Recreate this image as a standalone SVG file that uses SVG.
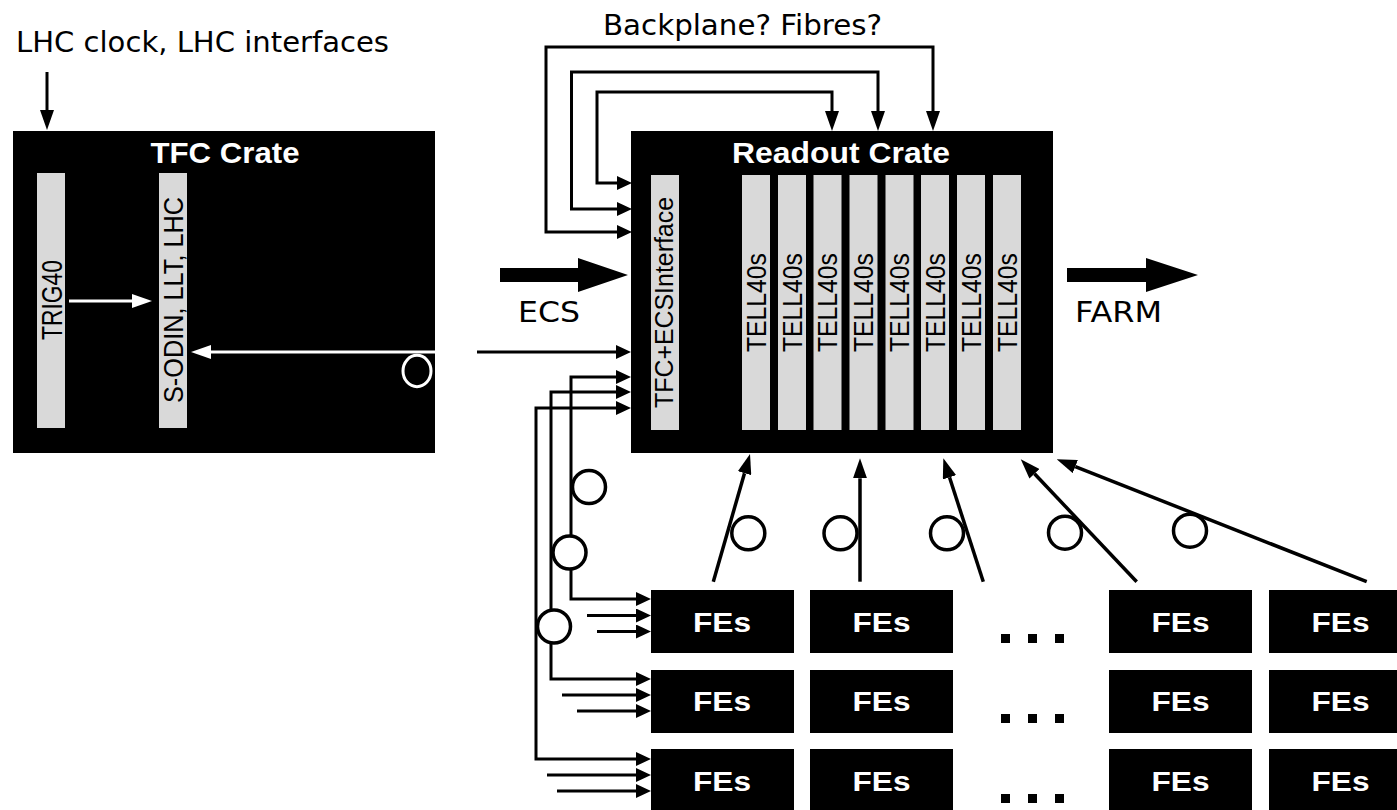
<svg xmlns="http://www.w3.org/2000/svg" width="1397" height="810" viewBox="0 0 1397 810">
<style>
.crate{fill:#000}
.bar{fill:#d9d9d9}
.fe{fill:#000}
.ttl{font-family:"Liberation Sans",Arial,sans-serif;font-weight:bold;fill:#fff;text-anchor:middle}
.bt{font-family:"Liberation Sans",Arial,sans-serif;fill:#000;text-anchor:middle}
.lbl{font-family:"DejaVu Sans",Verdana,sans-serif;font-size:29px;fill:#000}
.ln{fill:none;stroke:#000;stroke-width:3}
.fib{fill:none;stroke:#000;stroke-width:3.5}
.wl{fill:none;stroke:#fff;stroke-width:3}
.coil{fill:#fff;stroke:#000;stroke-width:3.5}
.dot{fill:#000}
</style>
<defs>
<marker id="ah" viewBox="0 0 20 14" refX="0" refY="7" markerWidth="20" markerHeight="14" markerUnits="userSpaceOnUse" orient="auto"><path d="M0,0 L20,7 L0,14 z" fill="#000"/></marker>
<marker id="ahs" viewBox="0 0 15 14" refX="0" refY="7" markerWidth="15" markerHeight="14" markerUnits="userSpaceOnUse" orient="auto"><path d="M0,0 L15,7 L0,14 z" fill="#000"/></marker>
<marker id="ahw" viewBox="0 0 20 14" refX="0" refY="7" markerWidth="20" markerHeight="14" markerUnits="userSpaceOnUse" orient="auto"><path d="M0,0 L20,7 L0,14 z" fill="#fff"/></marker>
</defs>
<rect width="1397" height="810" fill="#fff"/>

<g id="labels">
<text class="lbl" x="16" y="52" textLength="373" lengthAdjust="spacingAndGlyphs">LHC clock, LHC interfaces</text>
<text class="lbl" x="603" y="35" textLength="279" lengthAdjust="spacingAndGlyphs">Backplane? Fibres?</text>
<text class="lbl" x="518" y="322" textLength="62" lengthAdjust="spacingAndGlyphs">ECS</text>
<text class="lbl" x="1075" y="322" textLength="87" lengthAdjust="spacingAndGlyphs">FARM</text>
</g>

<g id="tfc-crate">
<rect class="crate" x="13" y="131" width="422" height="322"/>
<text class="ttl" x="225" y="163" font-size="30" textLength="149" lengthAdjust="spacingAndGlyphs">TFC Crate</text>
<g id="trig40">
<rect class="bar" x="37" y="173" width="28" height="255"/>
<text class="bt" transform="translate(62,300) rotate(-90)" font-size="29" textLength="80" lengthAdjust="spacingAndGlyphs">TRIG40</text>
</g>
<g id="sodin">
<rect class="bar" x="159" y="173" width="28" height="255"/>
<text class="bt" transform="translate(183,300) rotate(-90)" font-size="28" textLength="206" lengthAdjust="spacingAndGlyphs">S-ODIN, LLT, LHC</text>
</g>
</g>

<g id="readout-crate">
<rect class="crate" x="631" y="131" width="422" height="322"/>
<text class="ttl" x="841" y="163" font-size="29" textLength="218" lengthAdjust="spacingAndGlyphs">Readout Crate</text>
<g id="tfc-ecs-interface">
<rect class="bar" x="651" y="175" width="28" height="255"/>
<text class="bt" transform="translate(673,302.5) rotate(-90)" font-size="25" textLength="211" lengthAdjust="spacingAndGlyphs">TFC+ECSInterface</text>
</g>
<g id="tell40s-1"><rect class="bar" x="742" y="175" width="28" height="255"/><text class="bt" transform="translate(765.5,302.5) rotate(-90)" font-size="27" textLength="99" lengthAdjust="spacingAndGlyphs">TELL40s</text></g>
<g id="tell40s-2"><rect class="bar" x="778" y="175" width="28" height="255"/><text class="bt" transform="translate(801.5,302.5) rotate(-90)" font-size="27" textLength="99" lengthAdjust="spacingAndGlyphs">TELL40s</text></g>
<g id="tell40s-3"><rect class="bar" x="813.5" y="175" width="28" height="255"/><text class="bt" transform="translate(837,302.5) rotate(-90)" font-size="27" textLength="99" lengthAdjust="spacingAndGlyphs">TELL40s</text></g>
<g id="tell40s-4"><rect class="bar" x="849.5" y="175" width="28" height="255"/><text class="bt" transform="translate(873,302.5) rotate(-90)" font-size="27" textLength="99" lengthAdjust="spacingAndGlyphs">TELL40s</text></g>
<g id="tell40s-5"><rect class="bar" x="885.5" y="175" width="28" height="255"/><text class="bt" transform="translate(909,302.5) rotate(-90)" font-size="27" textLength="99" lengthAdjust="spacingAndGlyphs">TELL40s</text></g>
<g id="tell40s-6"><rect class="bar" x="921" y="175" width="28" height="255"/><text class="bt" transform="translate(944.5,302.5) rotate(-90)" font-size="27" textLength="99" lengthAdjust="spacingAndGlyphs">TELL40s</text></g>
<g id="tell40s-7"><rect class="bar" x="957" y="175" width="28" height="255"/><text class="bt" transform="translate(980.5,302.5) rotate(-90)" font-size="27" textLength="99" lengthAdjust="spacingAndGlyphs">TELL40s</text></g>
<g id="tell40s-8"><rect class="bar" x="993" y="175" width="28" height="255"/><text class="bt" transform="translate(1016.5,302.5) rotate(-90)" font-size="27" textLength="99" lengthAdjust="spacingAndGlyphs">TELL40s</text></g>
</g>

<g id="fe-r1c1"><rect class="fe" x="651" y="590" width="143" height="63"/><text class="ttl" x="722" y="632" font-size="27" textLength="58" lengthAdjust="spacingAndGlyphs">FEs</text></g>
<g id="fe-r1c2"><rect class="fe" x="810" y="590" width="143" height="63"/><text class="ttl" x="881.5" y="632" font-size="27" textLength="58" lengthAdjust="spacingAndGlyphs">FEs</text></g>
<g id="fe-r1c3"><rect class="fe" x="1109" y="590" width="143" height="63"/><text class="ttl" x="1180.5" y="632" font-size="27" textLength="58" lengthAdjust="spacingAndGlyphs">FEs</text></g>
<g id="fe-r1c4"><rect class="fe" x="1269" y="590" width="143" height="63"/><text class="ttl" x="1340.5" y="632" font-size="27" textLength="58" lengthAdjust="spacingAndGlyphs">FEs</text></g>
<g id="fe-r2c1"><rect class="fe" x="651" y="670" width="143" height="63"/><text class="ttl" x="722" y="711" font-size="27" textLength="58" lengthAdjust="spacingAndGlyphs">FEs</text></g>
<g id="fe-r2c2"><rect class="fe" x="810" y="670" width="143" height="63"/><text class="ttl" x="881.5" y="711" font-size="27" textLength="58" lengthAdjust="spacingAndGlyphs">FEs</text></g>
<g id="fe-r2c3"><rect class="fe" x="1109" y="670" width="143" height="63"/><text class="ttl" x="1180.5" y="711" font-size="27" textLength="58" lengthAdjust="spacingAndGlyphs">FEs</text></g>
<g id="fe-r2c4"><rect class="fe" x="1269" y="670" width="143" height="63"/><text class="ttl" x="1340.5" y="711" font-size="27" textLength="58" lengthAdjust="spacingAndGlyphs">FEs</text></g>
<g id="fe-r3c1"><rect class="fe" x="651" y="749" width="143" height="63"/><text class="ttl" x="722" y="791" font-size="27" textLength="58" lengthAdjust="spacingAndGlyphs">FEs</text></g>
<g id="fe-r3c2"><rect class="fe" x="810" y="749" width="143" height="63"/><text class="ttl" x="881.5" y="791" font-size="27" textLength="58" lengthAdjust="spacingAndGlyphs">FEs</text></g>
<g id="fe-r3c3"><rect class="fe" x="1109" y="749" width="143" height="63"/><text class="ttl" x="1180.5" y="791" font-size="27" textLength="58" lengthAdjust="spacingAndGlyphs">FEs</text></g>
<g id="fe-r3c4"><rect class="fe" x="1269" y="749" width="143" height="63"/><text class="ttl" x="1340.5" y="791" font-size="27" textLength="58" lengthAdjust="spacingAndGlyphs">FEs</text></g>

<g id="ellipsis">
<rect class="dot" x="1001" y="634" width="9" height="9"/><rect class="dot" x="1028" y="634" width="9" height="9"/><rect class="dot" x="1055" y="634" width="9" height="9"/>
<rect class="dot" x="1001" y="714" width="9" height="9"/><rect class="dot" x="1028" y="714" width="9" height="9"/><rect class="dot" x="1055" y="714" width="9" height="9"/>
<rect class="dot" x="1001" y="794" width="9" height="9"/><rect class="dot" x="1028" y="794" width="9" height="9"/><rect class="dot" x="1055" y="794" width="9" height="9"/>
</g>

<g id="connectors">
<path class="ln" d="M47,72 V110" marker-end="url(#ah)"/>
<path class="wl" d="M69,301 H132" marker-end="url(#ahw)"/>
<path class="wl" d="M435,352 H211" marker-end="url(#ahw)"/>
<ellipse cx="417" cy="371" rx="14" ry="15.7" fill="none" stroke="#fff" stroke-width="3"/>

<path class="ln" d="M616,183 H597 V92 H832 V111" marker-end="url(#ah)"/>
<path class="ln" d="M616,183 H617" marker-end="url(#ahs)"/>
<path class="ln" d="M616,209 H571.5 V72 H878 V111" marker-end="url(#ah)"/>
<path class="ln" d="M616,209 H617" marker-end="url(#ahs)"/>
<path class="ln" d="M616,232 H546 V47 H933 V111" marker-end="url(#ah)"/>
<path class="ln" d="M616,232 H617" marker-end="url(#ahs)"/>

<polygon points="500,268 578,268 578,258 628,275 578,292 578,282 500,282" fill="#000"/>
<polygon points="1067,268 1146,268 1146,258 1198,275 1146,292 1146,282 1067,282" fill="#000"/>

<path class="ln" d="M477,352 H616" marker-end="url(#ahs)"/>
<path class="ln" d="M571,490 V377 H616" marker-end="url(#ahs)"/>
<path class="ln" d="M571,490 V599 H636" marker-end="url(#ahs)"/>
<path class="ln" d="M551,550 V392 H616" marker-end="url(#ahs)"/>
<path class="ln" d="M551,550 V679 H636" marker-end="url(#ahs)"/>
<path class="ln" d="M536,600 V408 H616" marker-end="url(#ahs)"/>
<path class="ln" d="M536,600 V759 H636" marker-end="url(#ahs)"/>
<path class="ln" d="M587,615.5 H636" marker-end="url(#ahs)"/>
<path class="ln" d="M597,631.5 H636" marker-end="url(#ahs)"/>
<path class="ln" d="M562,695 H636" marker-end="url(#ahs)"/>
<path class="ln" d="M577,711 H636" marker-end="url(#ahs)"/>
<path class="ln" d="M547,775 H636" marker-end="url(#ahs)"/>
<path class="ln" d="M557,791 H636" marker-end="url(#ahs)"/>
<circle class="coil" cx="589" cy="487" r="16.5"/>
<circle class="coil" cx="569.5" cy="552.5" r="16.5"/>
<circle class="coil" cx="554" cy="626.5" r="16.5"/>

<path class="fib" d="M713.3,581.7 L744.5,473.2" marker-end="url(#ah)"/>
<path class="fib" d="M860,581.7 L860,478.3" marker-end="url(#ah)"/>
<path class="fib" d="M983.3,581.7 L949.5,477.3" marker-end="url(#ah)"/>
<path class="fib" d="M1136.7,581.7 L1034.5,473.8" marker-end="url(#ah)"/>
<path class="fib" d="M1366.7,581.7 L1075.3,466.6" marker-end="url(#ah)"/>
<circle class="coil" cx="748.3" cy="533.3" r="16.5"/>
<circle class="coil" cx="840.5" cy="533.3" r="16.5"/>
<circle class="coil" cx="947" cy="533.3" r="16.5"/>
<circle class="coil" cx="1065" cy="532.7" r="16.5"/>
<circle class="coil" cx="1190" cy="530.7" r="16.5"/>
</g>
</svg>
